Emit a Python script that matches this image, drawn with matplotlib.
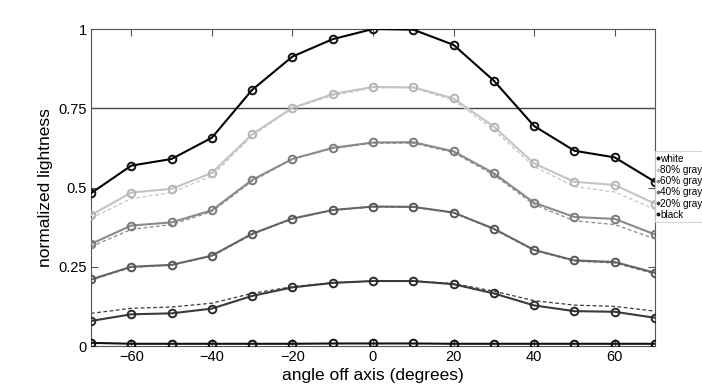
import matplotlib
matplotlib.use('Agg')
import matplotlib.pyplot as plt

plt.rcParams['font.family'] = ['Liberation Sans', 'DejaVu Sans']

angles = [-70, -60, -50, -40, -30, -20, -10, 0, 10, 20, 30, 40, 50, 60, 70]

# measured (solid) curves
white = [0.482, 0.569, 0.590, 0.657, 0.808, 0.913, 0.968, 1.000, 0.998, 0.950, 0.837, 0.694, 0.616, 0.595, 0.518]
gray80 = [0.413, 0.484, 0.496, 0.546, 0.668, 0.751, 0.795, 0.817, 0.816, 0.781, 0.692, 0.576, 0.518, 0.508, 0.449]
gray60 = [0.322, 0.380, 0.390, 0.428, 0.524, 0.590, 0.625, 0.642, 0.643, 0.614, 0.545, 0.452, 0.407, 0.401, 0.352]
gray40 = [0.210, 0.250, 0.256, 0.285, 0.354, 0.402, 0.429, 0.440, 0.439, 0.421, 0.370, 0.303, 0.270, 0.265, 0.231]
gray20 = [0.079, 0.100, 0.103, 0.118, 0.158, 0.185, 0.199, 0.205, 0.205, 0.195, 0.166, 0.128, 0.110, 0.108, 0.089]
black = [0.010, 0.007, 0.007, 0.007, 0.007, 0.007, 0.008, 0.008, 0.008, 0.007, 0.007, 0.007, 0.007, 0.007, 0.007]

# dashed curves
gray80_d = [0.403, 0.465, 0.484, 0.537, 0.663, 0.750, 0.790, 0.815, 0.815, 0.775, 0.682, 0.566, 0.503, 0.486, 0.431]
gray60_d = [0.313, 0.368, 0.383, 0.424, 0.520, 0.590, 0.623, 0.640, 0.640, 0.610, 0.540, 0.446, 0.395, 0.383, 0.338]
gray40_d = [0.208, 0.248, 0.255, 0.283, 0.352, 0.401, 0.428, 0.439, 0.438, 0.420, 0.368, 0.302, 0.268, 0.262, 0.228]
gray20_d = [0.103, 0.119, 0.123, 0.135, 0.166, 0.187, 0.200, 0.205, 0.205, 0.197, 0.173, 0.143, 0.129, 0.125, 0.110]

labels = ['white', '80% gray', '60% gray', '40% gray', '20% gray', 'black']
solid = [white, gray80, gray60, gray40, gray20, black]
dashed = [None, gray80_d, gray60_d, gray40_d, gray20_d, None]
colors = ['#000000', '#c4c4c4', '#8a8a8a', '#666666', '#3a3a3a', '#111111']
edges = ['#111111', '#b4b4b4', '#7a7a7a', '#555555', '#2a2a2a', '#111111']

fig = plt.figure(figsize=(7.02, 3.9), dpi=100)
ax = fig.add_axes([0.1296, 0.1128, 0.8034, 0.8128])

ax.axhline(0.75, color='#444444', lw=1.0, zorder=1)

for vals, dvals, c, ec, lab in zip(solid, dashed, colors, edges, labels):
    if dvals is not None:
        ax.plot(angles, dvals, '--', color=c, lw=0.9, dashes=(3, 2), zorder=2)
    ax.plot(angles, vals, '-', color=c, lw=1.5, marker='o', ms=5.5, mfc='none',
            mec=ec, mew=1.4, label=lab, zorder=3)

ax.set_xlim(-70, 70)
ax.set_ylim(0, 1)
ax.set_xticks([-60, -40, -20, 0, 20, 40, 60])
ax.set_yticks([0, 0.25, 0.5, 0.75, 1])
ax.set_yticklabels(['0', '0.25', '0.5', '0.75', '1'])
ax.tick_params(direction='in', top=True, right=True, length=5, labelsize=10.5, color='#555555', pad=3)
for s in ax.spines.values():
    s.set_color('#555555')
ax.set_xlabel('angle off axis (degrees)', fontsize=12.5, labelpad=3)
ax.set_ylabel('normalized lightness', fontsize=12.5, labelpad=4)

leg_handles = [plt.Line2D([], [], ls='none', marker='.', ms=3.5, color=c) for c in colors]
leg = fig.legend(leg_handles, labels, loc='upper left', bbox_to_anchor=(0.933, 0.612),
                 fontsize=7.2, frameon=True, handlelength=0.2, handletextpad=0.1,
                 borderpad=0.25, labelspacing=0.12, borderaxespad=0, fancybox=False)
leg.get_frame().set_edgecolor('#cccccc')
leg.get_frame().set_linewidth(0.8)

fig.savefig('out.png', dpi=100)
